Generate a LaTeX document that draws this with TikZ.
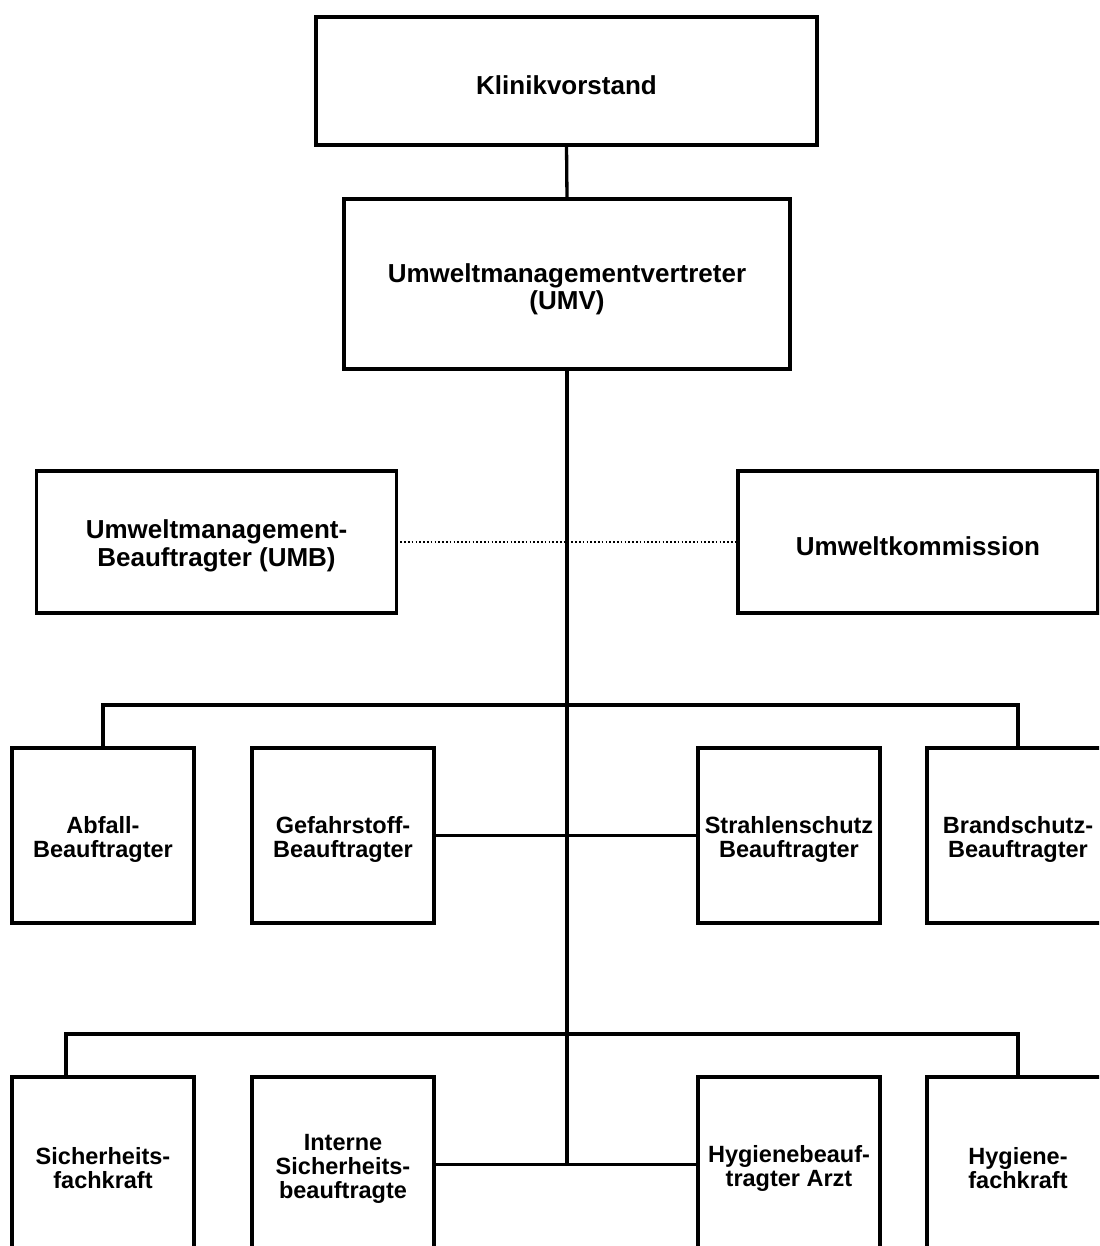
\documentclass[tikz,border=0pt]{standalone}
\usepackage{fontspec}
\setmainfont{Liberation Sans}
\begin{document}
\begin{tikzpicture}[x=1pt,y=-1pt,
  box/.style={draw=black, line width=3.3pt, fill=white, inner sep=0pt, outer sep=0pt},
  rowbox/.style={box, minimum width=182pt, minimum height=175pt},
  conn/.style={draw=black, line width=3.3pt},
  dotline/.style={draw=black, line width=1.6pt, dash pattern=on 1.6pt off 2.2pt},
  bigtxt/.style={font=\fontsize{26}{28}\selectfont\bfseries, align=center, inner sep=0pt},
  umvtxt/.style={font=\fontsize{26}{27}\selectfont\bfseries, align=center, inner sep=0pt},
  rowtxt/.style={font=\fontsize{23.5}{24}\selectfont\bfseries, align=center, inner sep=0pt}]
\path[use as bounding box, clip] (0,0) rectangle (1099,1246);
\fill[white] (0,0) rectangle (1099,1246);

% junction coordinates
\coordinate (jEnd) at (567,1166);
\coordinate (b2L) at (66,1034);

% side boxes and dotted link (under the trunk)
\node[box, minimum width=360pt, minimum height=142pt] (umb) at (216.5,542) {};
\node[box, minimum width=360pt, minimum height=142pt] (uk) at (918,542) {};
\draw[dotline] (umb.east) -- (uk.west);

% boxes
\node[box, minimum width=501pt, minimum height=128pt] (k) at (566.5,81) {};
\node[box, minimum width=446pt, minimum height=170pt] (umv) at (567,284) {};

\node[rowbox] (abf) at (103,835.5) {};
\node[rowbox] (gef) at (343,835.5) {};
\node[rowbox] (str) at (789,835.5) {};
\node[rowbox] (bra) at (1018,835.5) {};

\node[rowbox] (sich) at (103,1164.5) {};
\node[rowbox] (isb) at (343,1164.5) {};
\node[rowbox] (hyb) at (789,1164.5) {};
\node[rowbox] (hfk) at (1018,1164.5) {};

% connectors
\draw[conn] (k.south) -- (umv.north);
\draw[conn] (umv.south) -- (jEnd);
\draw[conn] (abf.north) -- ++(0,-43) -| (bra.north);
\draw[conn] (gef.east) -- (str.west);
\draw[conn] (b2L |- sich.north) -- (b2L) -| (hfk.north);
\draw[conn] (isb.east) -- (hyb.west);

% labels
\node[bigtxt] (kt) at ([yshift=-4pt]k.center) {Klinikvorstand};
\node[umvtxt] (umvt) at ([yshift=-5pt]umv.center) {Umweltmanagementvertreter\\(UMV)};
\node[bigtxt] (umbt) at ([yshift=-4pt]umb.center) {Umweltmanagement-\\Beauftragter (UMB)};
\node[bigtxt] (ukt) at ([yshift=-4pt]uk.center) {Umweltkommission};

\node[rowtxt] (abft) at ([yshift=-4pt]abf.center) {Abfall-\\Beauftragter};
\node[rowtxt] (geft) at ([yshift=-4pt]gef.center) {Gefahrstoff-\\Beauftragter};
\node[rowtxt] (strt) at ([yshift=-4pt]str.center) {Strahlenschutz\\Beauftragter};
\node[rowtxt] (brat) at ([yshift=-4pt]bra.center) {Brandschutz-\\Beauftragter};

\node[rowtxt] (sicht) at ([yshift=-4pt]sich.center) {Sicherheits-\\fachkraft};
\node[rowtxt] (isbt) at ([yshift=-4pt]isb.center) {Interne\\Sicherheits-\\beauftragte};
\node[rowtxt] (hybt) at ([yshift=-4pt]hyb.center) {Hygienebeauf-\\tragter Arzt};
\node[rowtxt] (hfkt) at ([yshift=-4pt]hfk.center) {Hygiene-\\fachkraft};
\end{tikzpicture}
\end{document}
